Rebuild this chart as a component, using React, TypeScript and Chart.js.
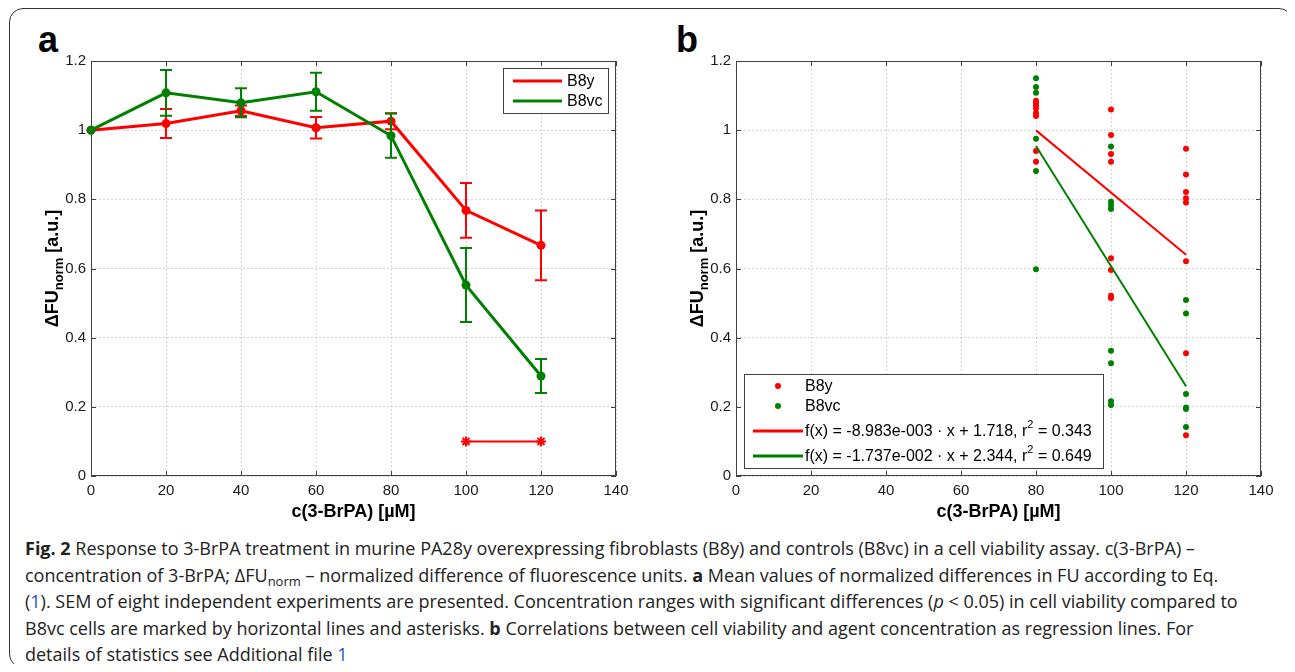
import React, { useEffect, useRef } from "react";
import { Chart, registerables } from "chart.js";

Chart.register(...registerables);

// ---------- data ----------
const concentrations = [0, 20, 40, 60, 80, 100, 120];
const b8yMean = [1.0, 1.019, 1.056, 1.007, 1.026, 0.768, 0.667];
const b8ySem = [0, 0.042, 0.015, 0.031, 0.023, 0.079, 0.101];
const b8vcMean = [1.0, 1.108, 1.079, 1.111, 0.984, 0.552, 0.289];
const b8vcSem = [0, 0.066, 0.042, 0.055, 0.064, 0.107, 0.049];
const significanceRange = [100, 120];
const significanceLevel = 0.1;

const b8yAt80 = [1.085, 1.078, 1.071, 1.063, 1.05, 1.041, 0.94, 0.909];
const b8yAt100 = [1.06, 0.986, 0.931, 0.909, 0.63, 0.596, 0.521, 0.515];
const b8yAt120 = [0.946, 0.872, 0.821, 0.803, 0.791, 0.621, 0.355, 0.118];
const b8vcAt80 = [1.15, 1.125, 1.108, 0.975, 0.882, 0.598];
const b8vcAt100 = [0.953, 0.793, 0.783, 0.772, 0.362, 0.326, 0.216, 0.205];
const b8vcAt120 = [0.509, 0.47, 0.237, 0.198, 0.194, 0.142];
const scatterConcentrations = [80, 100, 120];

const b8yFit = [-8.983e-3, 1.718, 0.343]; // slope, intercept, r^2
const b8vcFit = [-1.737e-2, 2.344, 0.649];
const fitRange = [80, 120];

const xTickStep = 20;
const xMax = 140;
const yTickStep = 0.2;
const yMax = 1.2;

const seriesNames = ["B8y", "B8vc"];
const xTitle = "c(3-BrPA) [\u00b5M]";

// ---------- styles ----------
const RED = "#ff0000";
const GREEN = "#008000";
const FONT = "'Liberation Sans', Arial, Helvetica, sans-serif";
const AXIS_COLOR = "#404040";

function fmtExp(v: number) {
  const s = v.toExponential(3);
  const [m, e] = s.split("e");
  const neg = e[0] === "-";
  const digits = e.replace(/[+-]/, "").padStart(3, "0");
  return `${m}e${neg ? "-" : "+"}${digits}`;
}

const matlabFrame = {
  id: "matlabFrame",
  beforeDatasetsDraw(chart: any) {
    const { ctx, chartArea: a, scales } = chart;
    ctx.save();
    ctx.strokeStyle = AXIS_COLOR;
    ctx.lineWidth = 1;
    ctx.strokeRect(a.left + 0.5, a.top + 0.5, a.right - a.left - 1, a.bottom - a.top - 1);
    const tl = 5;
    ctx.beginPath();
    scales.x.ticks.forEach((t: any) => {
      const x = Math.round(scales.x.getPixelForValue(t.value)) + 0.5;
      ctx.moveTo(x, a.bottom);
      ctx.lineTo(x, a.bottom - tl);
      ctx.moveTo(x, a.top);
      ctx.lineTo(x, a.top + tl);
    });
    scales.y.ticks.forEach((t: any) => {
      const y = Math.round(scales.y.getPixelForValue(t.value)) + 0.5;
      ctx.moveTo(a.left, y);
      ctx.lineTo(a.left + tl, y);
      ctx.moveTo(a.right, y);
      ctx.lineTo(a.right - tl, y);
    });
    ctx.stroke();
    ctx.restore();
  },
};

const yTitlePlugin = {
  id: "yTitle",
  afterDraw(chart: any) {
    const { ctx, chartArea: a } = chart;
    const big = `bold 18px ${FONT}`;
    const small = `bold 13px ${FONT}`;
    const p1 = "\u0394FU";
    const p2 = "norm";
    const p3 = " [a.u.]";
    ctx.save();
    ctx.font = big;
    const w1 = ctx.measureText(p1).width;
    const w3 = ctx.measureText(p3).width;
    ctx.font = small;
    const w2 = ctx.measureText(p2).width;
    const total = w1 + w2 + w3;
    ctx.translate(a.left - 33, (a.top + a.bottom) / 2);
    ctx.rotate(-Math.PI / 2);
    ctx.fillStyle = "#000";
    ctx.textBaseline = "alphabetic";
    ctx.textAlign = "left";
    let x = -total / 2;
    ctx.font = big;
    ctx.fillText(p1, x, 0);
    x += w1;
    ctx.font = small;
    ctx.fillText(p2, x, 5);
    x += w2;
    ctx.font = big;
    ctx.fillText(p3, x, 0);
    ctx.restore();
  },
};

const errorBarPlugin = {
  id: "errorBars",
  afterDatasetDraw(chart: any, args: any) {
    const ds: any = chart.data.datasets[args.index];
    if (!ds.errorBars) return;
    const { ctx } = chart;
    const ys = chart.scales.y;
    ctx.save();
    ctx.strokeStyle = ds.borderColor;
    ctx.lineWidth = 2;
    args.meta.data.forEach((el: any, i: number) => {
      const e = ds.errorBars[i];
      if (!e) return;
      const v = ds.data[i].y;
      const x = el.x;
      const t = ys.getPixelForValue(v + e);
      const b = ys.getPixelForValue(v - e);
      ctx.beginPath();
      ctx.moveTo(x, t);
      ctx.lineTo(x, b);
      ctx.moveTo(x - 6, t);
      ctx.lineTo(x + 6, t);
      ctx.moveTo(x - 6, b);
      ctx.lineTo(x + 6, b);
      ctx.stroke();
    });
    ctx.restore();
  },
};

function legendBox(ctx: any, x: number, y: number, w: number, h: number) {
  ctx.fillStyle = "#fff";
  ctx.fillRect(x, y, w, h);
  ctx.strokeStyle = AXIS_COLOR;
  ctx.lineWidth = 1;
  ctx.strokeRect(Math.round(x) + 0.5, Math.round(y) + 0.5, w, h);
}

const legendA = {
  id: "legendA",
  afterDraw(chart: any) {
    const { ctx, chartArea: a } = chart;
    const w = 105;
    const h = 45;
    const x = a.right - 8 - w;
    const y = a.top + 7;
    ctx.save();
    legendBox(ctx, x, y, w, h);
    const colors = [RED, GREEN];
    ctx.font = `16px ${FONT}`;
    ctx.textBaseline = "middle";
    seriesNames.forEach((n, i) => {
      const ry = y + 13 + i * 20;
      ctx.strokeStyle = colors[i];
      ctx.lineWidth = 3;
      ctx.beginPath();
      ctx.moveTo(x + 10, ry);
      ctx.lineTo(x + 59, ry);
      ctx.stroke();
      ctx.fillStyle = "#000";
      ctx.fillText(n, x + 64, ry + 1);
    });
    ctx.restore();
  },
};

const legendB = {
  id: "legendB",
  afterDraw(chart: any) {
    const { ctx, chartArea: a } = chart;
    const w = 359;
    const h = 94;
    const x = a.left + 8;
    const y = a.bottom - 8 - h;
    ctx.save();
    legendBox(ctx, x, y, w, h);
    const colors = [RED, GREEN];
    ctx.textBaseline = "middle";
    seriesNames.forEach((n, i) => {
      const ry = y + 12 + i * 20;
      ctx.fillStyle = colors[i];
      ctx.beginPath();
      ctx.arc(x + 34, ry, 3, 0, Math.PI * 2);
      ctx.fill();
      ctx.fillStyle = "#000";
      ctx.font = `16px ${FONT}`;
      ctx.fillText(n, x + 61, ry + 1);
    });
    const fits = [b8yFit, b8vcFit];
    fits.forEach((f, i) => {
      const ry = y + 57 + i * 25;
      ctx.strokeStyle = colors[i];
      ctx.lineWidth = 3;
      ctx.beginPath();
      ctx.moveTo(x + 9, ry);
      ctx.lineTo(x + 59, ry);
      ctx.stroke();
      ctx.fillStyle = "#000";
      const s1 = `f(x) = ${fmtExp(f[0])} \u00b7 x + ${f[1].toFixed(3)}, r`;
      const s3 = ` = ${f[2].toFixed(3)}`;
      let tx = x + 61;
      ctx.font = `16px ${FONT}`;
      ctx.fillText(s1, tx, ry + 1);
      tx += ctx.measureText(s1).width;
      ctx.font = `11px ${FONT}`;
      ctx.fillText("2", tx, ry - 6);
      tx += ctx.measureText("2").width;
      ctx.font = `16px ${FONT}`;
      ctx.fillText(s3, tx, ry + 1);
    });
    ctx.restore();
  },
};

const tickFmt = (v: any) => String(Number(Number(v).toFixed(2)));

function baseScales() {
  return {
    x: {
      type: "linear",
      min: 0,
      max: xMax,
      afterFit: (s: any) => {
        s.height = 50;
      },
      ticks: {
        stepSize: xTickStep,
        padding: 6,
        color: "#1a1a1a",
        font: { family: FONT, size: 15 },
        callback: tickFmt,
      },
      grid: {
        color: "rgba(0,0,0,0.16)",
        lineWidth: 1,
        drawTicks: false,
      },
      border: { display: false, dash: [2, 2] },
      title: {
        display: true,
        text: xTitle,
        color: "#000",
        font: { family: FONT, size: 18, weight: "bold" },
        padding: { top: 0, bottom: 3 },
      },
    },
    y: {
      type: "linear",
      min: 0,
      max: yMax,
      afterFit: (s: any) => {
        s.width = 71;
      },
      ticks: {
        stepSize: yTickStep,
        padding: 5,
        color: "#1a1a1a",
        font: { family: FONT, size: 15 },
        callback: tickFmt,
      },
      grid: {
        color: "rgba(0,0,0,0.16)",
        lineWidth: 1,
        drawTicks: false,
      },
      border: { display: false, dash: [2, 2] },
    },
  };
}

function configA(): any {
  const red = concentrations.map((x, i) => ({ x, y: b8yMean[i] }));
  const green = concentrations.map((x, i) => ({ x, y: b8vcMean[i] }));
  const sig = significanceRange.map((x) => ({ x, y: significanceLevel }));
  return {
    type: "line",
    data: {
      datasets: [
        {
          label: seriesNames[0],
          data: red,
          errorBars: b8ySem,
          borderColor: RED,
          backgroundColor: RED,
          borderWidth: 3,
          pointRadius: 4.5,
          pointBorderWidth: 0,
          pointBackgroundColor: RED,
          order: 1,
          clip: false,
        },
        {
          label: seriesNames[1],
          data: green,
          errorBars: b8vcSem,
          borderColor: GREEN,
          backgroundColor: GREEN,
          borderWidth: 3,
          pointRadius: 4.5,
          pointBorderWidth: 0,
          pointBackgroundColor: GREEN,
          order: 0,
          clip: false,
        },
        {
          label: "p < 0.05",
          data: sig,
          borderColor: RED,
          backgroundColor: RED,
          borderWidth: 2,
          pointStyle: "star",
          pointRadius: 5,
          pointBorderWidth: 2,
          pointBorderColor: RED,
          order: 2,
          clip: false,
        },
      ],
    },
    options: {
      responsive: false,
      animation: false,
      layout: { padding: { top: 41, right: 24, bottom: 0, left: 0 } },
      plugins: { legend: { display: false }, tooltip: { enabled: false } },
      scales: baseScales(),
    },
    plugins: [matlabFrame, errorBarPlugin, yTitlePlugin, legendA],
  };
}

function configB(): any {
  const b8yGroups = [b8yAt80, b8yAt100, b8yAt120];
  const b8vcGroups = [b8vcAt80, b8vcAt100, b8vcAt120];
  const redPts = b8yGroups.flatMap((g, i) => g.map((y) => ({ x: scatterConcentrations[i], y })));
  const greenPts = b8vcGroups.flatMap((g, i) => g.map((y) => ({ x: scatterConcentrations[i], y })));
  const line = (f: number[]) => fitRange.map((x) => ({ x, y: f[0] * x + f[1] }));
  return {
    type: "scatter",
    data: {
      datasets: [
        {
          label: seriesNames[0],
          data: redPts,
          backgroundColor: RED,
          borderWidth: 0,
          pointRadius: 3,
          order: 3,
        },
        {
          label: seriesNames[1],
          data: greenPts,
          backgroundColor: GREEN,
          borderWidth: 0,
          pointRadius: 3,
          order: 2,
        },
        {
          label: "fit B8y",
          data: line(b8yFit),
          showLine: true,
          borderColor: RED,
          borderWidth: 2,
          pointRadius: 0,
          order: 1,
        },
        {
          label: "fit B8vc",
          data: line(b8vcFit),
          showLine: true,
          borderColor: GREEN,
          borderWidth: 2,
          pointRadius: 0,
          order: 0,
        },
      ],
    },
    options: {
      responsive: false,
      animation: false,
      layout: { padding: { top: 41, right: 24, bottom: 0, left: 0 } },
      plugins: { legend: { display: false }, tooltip: { enabled: false } },
      scales: baseScales(),
    },
    plugins: [matlabFrame, yTitlePlugin, legendB],
  };
}

function ChartCanvas({ make, style }: { make: () => any; style: React.CSSProperties }) {
  const ref = useRef<HTMLCanvasElement | null>(null);
  useEffect(() => {
    if (!ref.current) return;
    const c = new Chart(ref.current, make());
    return () => c.destroy();
  }, []);
  return <canvas ref={ref} width={620} height={506} style={{ position: "absolute", width: 620, height: 506, ...style }} />;
}

const panelLabel: React.CSSProperties = {
  position: "absolute",
  fontFamily: FONT,
  fontWeight: "bold",
  fontSize: 36,
  lineHeight: "36px",
  color: "#000",
};

const blue: React.CSSProperties = { color: "#2255cc" };

export default function App() {
  return (
    <div style={{ position: "relative", width: 1285, height: 656 }}>
      <div
        style={{
          position: "absolute",
          left: 1,
          top: 0,
          width: 1284,
          height: 660,
          border: "1.5px solid #333",
          borderRadius: 14,
          boxSizing: "border-box",
        }}
      />
      <div style={{ ...panelLabel, left: 30, top: 14 }}>a</div>
      <div style={{ ...panelLabel, left: 668, top: 14 }}>b</div>
      <ChartCanvas make={configA} style={{ left: 12, top: 12 }} />
      <ChartCanvas make={configB} style={{ left: 657, top: 12 }} />
      <div
        style={{
          position: "absolute",
          left: 17,
          top: 527,
          fontFamily: "'Open Sans', sans-serif",
          fontSize: 18,
          lineHeight: "26.5px",
          color: "#222",
          whiteSpace: "nowrap",
        }}
      >
        <div>
          <b>Fig. 2</b> Response to 3-BrPA treatment in murine PA28y overexpressing fibroblasts (B8y) and controls (B8vc) in a cell viability assay. c(3-BrPA) –
        </div>
        <div>
          concentration of 3-BrPA; ΔFU<sub style={{ fontSize: 13, verticalAlign: "-4px", lineHeight: 0 }}>norm</sub> – normalized difference of fluorescence units. <b>a</b> Mean values of normalized differences in FU according to Eq.
        </div>
        <div>
          (<span style={blue}>1</span>). SEM of eight independent experiments are presented. Concentration ranges with significant differences (<i>p</i> &lt; 0.05) in cell viability compared to
        </div>
        <div>
          B8vc cells are marked by horizontal lines and asterisks. <b>b</b> Correlations between cell viability and agent concentration as regression lines. For
        </div>
        <div>
          details of statistics see Additional file <span style={blue}>1</span>
        </div>
      </div>
    </div>
  );
}
